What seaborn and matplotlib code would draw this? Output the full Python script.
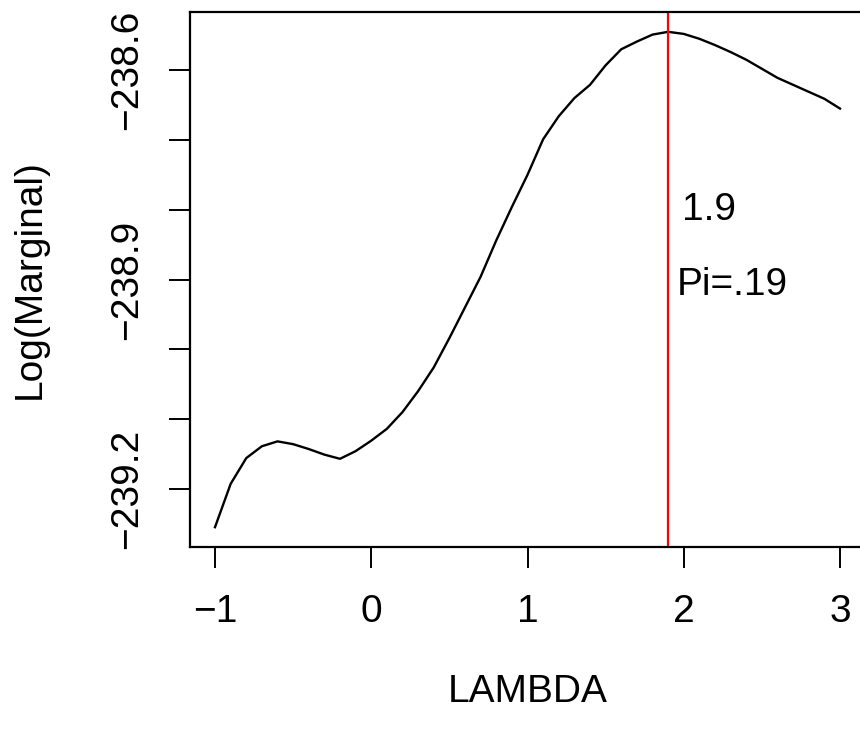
import matplotlib
matplotlib.use("Agg")
import matplotlib.pyplot as plt
import seaborn as sns
import pandas as pd

lam = [-1.0, -0.9, -0.8, -0.7, -0.6, -0.5, -0.4, -0.3, -0.2, -0.1,
       0.0, 0.1, 0.2, 0.3, 0.4, 0.5, 0.6, 0.7, 0.8, 0.9,
       1.0, 1.1, 1.2, 1.3, 1.4, 1.5, 1.6, 1.7, 1.8, 1.9,
       2.0, 2.1, 2.2, 2.3, 2.4, 2.5, 2.6, 2.7, 2.8, 2.9, 3.0]
logmarg = [-239.255, -239.193, -239.156, -239.139, -239.132, -239.136, -239.143, -239.151, -239.157, -239.146,
           -239.131, -239.114, -239.090, -239.060, -239.026, -238.984, -238.940, -238.896, -238.844, -238.796,
           -238.750, -238.699, -238.666, -238.640, -238.621, -238.593, -238.570, -238.559, -238.549, -238.545,
           -238.548, -238.555, -238.564, -238.574, -238.585, -238.598, -238.611, -238.621, -238.631, -238.641,
           -238.655]
best_lambda = 1.9
ann_text = ["1.9", "Pi=.19"]
ann_x = [2.16, 2.31]
ann_y = [-238.80, -238.908]
xticks = [-1, 0, 1, 2, 3]
yticks = [-238.6, -238.7, -238.8, -238.9, -239.0, -239.1, -239.2]
ylabels = ["\u2212238.6", "", "", "\u2212238.9", "", "", "\u2212239.2"]

plt.rcParams['font.family'] = ['Liberation Sans', 'DejaVu Sans']
FS = 28

df = pd.DataFrame({"LAMBDA": lam, "LogMarginal": logmarg})

fig = plt.figure(figsize=(8.6, 7.31), dpi=100)
ax = fig.add_axes([190 / 860, 184 / 731, 675 / 860, 535 / 731])

sns.lineplot(data=df, x="LAMBDA", y="LogMarginal", ax=ax, color="black", linewidth=1.7)
ax.axvline(best_lambda, color="red", linewidth=1.6)
for t, x, y in zip(ann_text, ann_x, ann_y):
    ax.text(x, y, t, fontsize=FS, ha="center", va="center")

xr = 4.0
ax.set_xlim(-1 - 0.04 * xr, 3 + 0.04 * xr)
ymin, ymax = min(logmarg), max(logmarg)
yr = ymax - ymin
ax.set_ylim(ymin - 0.04 * yr, ymax + 0.04 * yr)

ax.set_xticks(xticks)
ax.set_xticklabels([("\u2212" + str(-v)) if v < 0 else str(v) for v in xticks])
ax.set_yticks(yticks)
ax.set_yticklabels(ylabels, rotation=90, va="center")

ax.tick_params(axis="both", direction="out", length=15, width=1.4, labelsize=FS, colors="black")
ax.tick_params(axis="x", pad=19)
ax.tick_params(axis="y", pad=17)

for s in ax.spines.values():
    s.set_linewidth(1.6)
    s.set_color("black")

ax.set_xlabel("LAMBDA", fontsize=FS)
ax.set_ylabel("Log(Marginal)", fontsize=FS)
ax.xaxis.set_label_coords(0.5, -0.238)
ax.yaxis.set_label_coords(-0.21, 0.5)

fig.savefig("out.png", dpi=100)
